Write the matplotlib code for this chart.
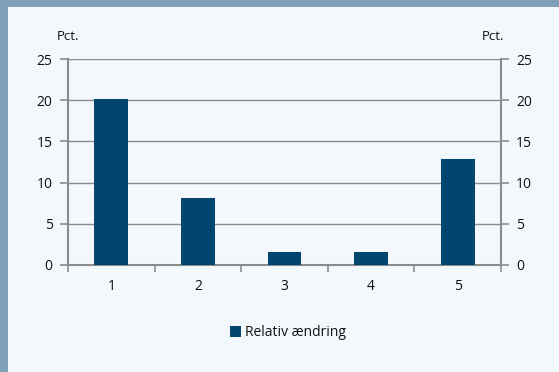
import matplotlib.pyplot as plt
import matplotlib.patches as mpatches

# data
categories = ['1', '2', '3', '4', '5']
values = [20.2, 8.1, 1.6, 1.6, 12.9]
series_name = 'Relativ ændring'
y_ticks = [0, 5, 10, 15, 20, 25]

bar_color = '#00466e'
bg_color = '#f3f8fc'
band_color = '#7fa0b8'
grid_color = '#8c8c8c'
text_color = '#111111'

plt.rcParams['font.family'] = ['Open Sans', 'DejaVu Sans']

W, H = 559, 372
fig = plt.figure(figsize=(W / 100, H / 100), dpi=100)
fig.patch.set_facecolor(bg_color)

# top band and left border
fig.add_artist(mpatches.Rectangle((0, 1 - 7 / H), 1, 7 / H, transform=fig.transFigure,
                                  facecolor=band_color, edgecolor='none'))
fig.add_artist(mpatches.Rectangle((0, 0), 8 / W, 1, transform=fig.transFigure,
                                  facecolor=band_color, edgecolor='none'))

left, right, top, bottom = 68, 501, 59, 265
ax = fig.add_axes([left / W, 1 - bottom / H, (right - left) / W, (bottom - top) / H])
ax.set_facecolor(bg_color)

x = list(range(len(categories)))
ax.bar(x, values, width=0.39, color=bar_color, zorder=3, label=series_name)

ax.set_xlim(-0.5, len(categories) - 0.5)
ax.set_ylim(0, 25)
ax.set_yticks(y_ticks)
ax.set_yticklabels([str(t) for t in y_ticks], fontsize=10, color=text_color)

# category ticks at boundaries, labels in the middle
ax.set_xticks([i - 0.5 for i in range(len(categories) + 1)])
ax.set_xticklabels([])
ax.set_xticks(x, minor=True)
ax.set_xticklabels(categories, minor=True, fontsize=10, color=text_color)
ax.tick_params(axis='x', which='major', length=5, color=grid_color, width=1.2, direction='out')
ax.tick_params(axis='x', which='minor', length=0, pad=10)
ax.tick_params(axis='y', length=6, color=grid_color, width=1.2, pad=5)

for y in y_ticks[1:]:
    ax.axhline(y, color=grid_color, lw=1.0, zorder=1)

for side in ['top', 'right']:
    ax.spines[side].set_visible(False)
ax.spines['left'].set_color(grid_color)
ax.spines['left'].set_linewidth(1.5)
ax.spines['bottom'].set_color(grid_color)
ax.spines['bottom'].set_linewidth(1.5)

ax2 = ax.twinx()
ax2.set_ylim(0, 25)
ax2.set_yticks(y_ticks)
ax2.set_yticklabels([str(t) for t in y_ticks], fontsize=10, color=text_color)
ax2.tick_params(axis='y', length=6, color=grid_color, width=1.2, pad=5)
for side in ['top', 'left', 'bottom']:
    ax2.spines[side].set_visible(False)
ax2.spines['right'].set_color(grid_color)
ax2.spines['right'].set_linewidth(1.5)

fig.text(68 / W, 1 - 37 / H, 'Pct.', fontsize=9.5, ha='center', va='center', color=text_color)
fig.text(493 / W, 1 - 37 / H, 'Pct.', fontsize=9.5, ha='center', va='center', color=text_color)

ax.legend(loc='center', bbox_to_anchor=(288 / W, 1 - 333 / H), bbox_transform=fig.transFigure,
          frameon=False, fontsize=10, handlelength=0.8, handleheight=0.8, handletextpad=0.3,
          labelcolor=text_color)

fig.savefig('out.png', dpi=100, facecolor=bg_color)
